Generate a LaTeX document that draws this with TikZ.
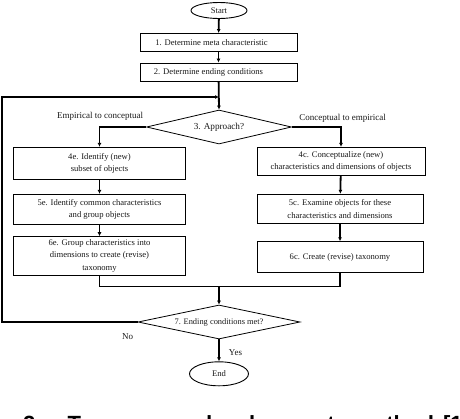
\documentclass[tikz,border=0pt]{standalone}
\usepackage{fontspec}
\setmainfont{Liberation Serif}
\newfontfamily\capfont{Liberation Sans}
\usetikzlibrary{shapes.geometric,arrows.meta}
\definecolor{ink}{HTML}{1A1A1A}
\begin{document}
\begin{tikzpicture}[x=1pt,y=-1pt,
  every node/.style={text=ink,font=\fontsize{8.6}{12.5}\selectfont},
  procbox/.style={draw=black,line width=0.9pt,rectangle,inner sep=0pt,align=center},
  termnode/.style={draw=black,line width=0.9pt,ellipse,inner sep=0pt},
  decnode/.style={draw=black,line width=0.8pt,diamond,shape aspect=4.3,inner sep=0pt},
  conn/.style={draw=black,line width=1.8pt},
  arr/.style={conn,-{Latex[length=4pt,width=4pt]}},
  lbl/.style={inner sep=0pt,font=\fontsize{9}{11}\selectfont}]
\path[use as bounding box] (0,0) rectangle (460,418);
\fill[white] (0,0) rectangle (460,418);

\node[termnode,minimum width=56pt,minimum height=16pt] (start) at (219,10.5) {Start};
\node[procbox,minimum width=157pt,minimum height=18pt] (b1) at (218.5,42.5) {1. Determine meta characteristic\hspace{14pt}};
\node[procbox,minimum width=157pt,minimum height=18pt] (b2) at (218.5,72) {2. Determine ending conditions\hspace{20pt}};
\node[decnode,minimum width=145pt,minimum height=34pt,font=\fontsize{9.2}{11}\selectfont] (d3) at (219,127) {3. Approach?};

\node[lbl] (le) at (100,116.5) {Empirical to conceptual};
\node[lbl] (lc) at (342.5,118) {Conceptual to empirical};

\node[procbox,minimum width=171.5pt,minimum height=32pt] (e4) at (99.5,163.3) {4e. Identify (new)\\subset of objects};
\node[procbox,minimum width=171.5pt,minimum height=30pt] (e5) at (99.5,209.3) {5e. Identify common characteristics\\and group objects};
\node[procbox,minimum width=171.5pt,minimum height=38.3pt] (e6) at (99.5,255.8) {6e. Group characteristics into\\dimensions to create (revise)\\taxonomy};

\node[procbox,minimum width=168pt,minimum height=27.7pt] (c4) at (341,161.2) {4c. Conceptualize (new)\\characteristics and dimensions of objects};
\node[procbox,minimum width=166pt,minimum height=29pt] (c5) at (340,208.8) {5c. Examine objects for these\\characteristics and dimensions};
\node[procbox,minimum width=166pt,minimum height=30.6pt] (c6) at (340,257) {6c. Create (revise) taxonomy};

\node[decnode,minimum width=162pt,minimum height=34pt,font=\fontsize{8.4}{10}\selectfont] (d7) at (219,322) {7. Ending conditions met?};
\node[termnode,minimum width=59pt,minimum height=24pt] (end) at (219,373.8) {End};

\node[lbl] (no) at (127.5,337) {No};
\node[lbl] (yes) at (235.5,353) {Yes};

\coordinate (lt) at (2,97);
\coordinate (lj) at (219,97);
\coordinate (m) at (219,286.5);

\draw[arr] (start) -- (b1);
\draw[arr] (b1) -- (b2);
\draw[arr] (b2) -- (d3.north);
\draw[arr] (d7.west) -| (lt) -- (lj);
\draw[arr] (d3.west) -| (e4.north);
\draw[arr] (d3.east) -| (c4.north);
\draw[arr] (e4) -- (e5);
\draw[arr] (e5) -- (e6);
\draw[arr] (c4) -- (c5);
\draw[arr] (c5) -- (c6);
\draw[conn] (e6.south) |- (m) -| (c6.south);
\draw[arr] (m) -- (d7.north);
\draw[arr] (d7.south) -- (end);

\begin{scope}
\clip (0,0) rectangle (460,418);
\node[anchor=base west,inner sep=0pt,text=black,font=\capfont\bfseries\fontsize{22}{24}\selectfont] (cap) at (23,431.5) {2.\hspace{26pt}Taxonomy\hspace{23pt}development\hspace{20pt}method\hspace{9pt}[1};
\end{scope}
\end{tikzpicture}
\end{document}
